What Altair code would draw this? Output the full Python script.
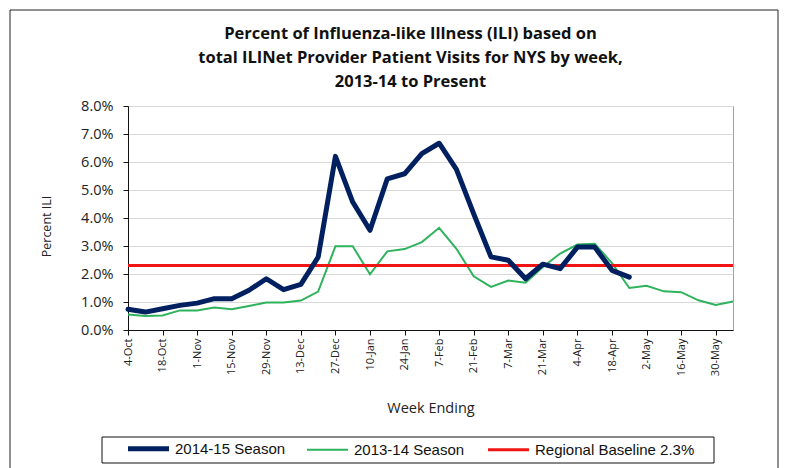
import json
import altair as alt
import pandas as pd

# ---- data ----
tick_labels = ["4-Oct", "18-Oct", "1-Nov", "15-Nov", "29-Nov", "13-Dec", "27-Dec",
               "10-Jan", "24-Jan", "7-Feb", "21-Feb", "7-Mar", "21-Mar", "4-Apr",
               "18-Apr", "2-May", "16-May", "30-May"]

season_2014_15 = [0.74, 0.64, 0.76, 0.88, 0.96, 1.12, 1.12, 1.42, 1.83, 1.44,
                  1.63, 2.60, 6.20, 4.57, 3.56, 5.40, 5.58, 6.30, 6.67, 5.74,
                  4.15, 2.61, 2.49, 1.83, 2.35, 2.19, 2.96, 2.96, 2.13, 1.89]

season_2013_14 = [0.55, 0.50, 0.52, 0.70, 0.70, 0.80, 0.74, 0.86, 0.98, 0.98,
                  1.05, 1.37, 2.99, 2.99, 1.99, 2.81, 2.89, 3.14, 3.65, 2.90,
                  1.92, 1.54, 1.77, 1.69, 2.25, 2.73, 3.05, 3.08, 2.39, 1.50,
                  1.58, 1.38, 1.35, 1.06, 0.89, 1.02]

baseline_value = 2.3
n_weeks = 36

series_names = ["2014-15 Season", "2013-14 Season", "Regional Baseline 2.3%"]
series_colors = ["#002060", "#2fb25c", "#f01414"]

rows = []
for i, v in enumerate(season_2014_15):
    rows.append({"series": series_names[0], "week": i, "value": v})
for i, v in enumerate(season_2013_14):
    rows.append({"series": series_names[1], "week": i, "value": v})
for i in range(n_weeks):
    rows.append({"series": series_names[2], "week": i, "value": baseline_value})
df = pd.DataFrame(rows)

label_expr = json.dumps(tick_labels) + "[datum.value / 2]"
stroke_expr = ("datum.value == '2014-15 Season' ? 5 : "
               "(datum.value == '2013-14 Season' ? 2 : 3)")

x_enc = alt.X("week:Q",
              scale=alt.Scale(domain=[0, n_weeks - 1], nice=False, zero=False),
              axis=alt.Axis(values=list(range(0, n_weeks - 1, 2)), labelExpr=label_expr,
                            labelAngle=-90, labelFontSize=11, labelPadding=3,
                            tickSize=5, title="Week Ending", titleFontSize=14.5,
                            titlePadding=26, grid=False))
y_enc = alt.Y("value:Q",
              scale=alt.Scale(domain=[0, 8], nice=False, zero=True),
              axis=alt.Axis(values=list(range(0, 9)),
                            labelExpr="format(datum.value, '.1f') + '%'",
                            labelFontSize=14.5, labelPadding=10, tickSize=5,
                            title="Percent ILI", titleFontSize=12.5, titlePadding=27,
                            titleY=120,
                            grid=True, gridColor="#d9d9d9"))
color_enc = alt.Color("series:N",
                      scale=alt.Scale(domain=series_names, range=series_colors),
                      legend=alt.Legend(orient="none", legendX=13, legendY=335,
                                        direction="horizontal", title=None,
                                        symbolType="stroke", symbolSize=1681,
                                        symbolStrokeWidth={"expr": stroke_expr},
                                        labelFont="Liberation Sans", labelFontSize=15,
                                        labelColor="#111111", labelOffset=19,
                                        columnPadding=17, padding=0, labelLimit=400))

base = alt.Chart(df)

green = base.transform_filter(alt.datum.series == series_names[1]).mark_line(
    strokeWidth=2).encode(x=x_enc, y=y_enc, color=color_enc)
red = base.transform_filter(alt.datum.series == series_names[2]).mark_line(
    strokeWidth=3).encode(x=x_enc, y=y_enc, color=color_enc)
blue = base.transform_filter(alt.datum.series == series_names[0]).mark_line(
    strokeWidth=5, strokeJoin="round", strokeCap="round").encode(
    x=x_enc, y=y_enc, color=color_enc)

frame_df = pd.DataFrame({"k": [0]})
outer_border = alt.Chart(frame_df).mark_rect(fillOpacity=0, stroke="#222222",
                                             strokeWidth=1).encode(
    x=alt.value(-118), x2=alt.value(650), y=alt.value(-96), y2=alt.value(380))
legend_border = alt.Chart(frame_df).mark_rect(fillOpacity=0, stroke="#111111",
                                              strokeWidth=1).encode(
    x=alt.value(-26), x2=alt.value(586), y=alt.value(331), y2=alt.value(357))

chart = alt.layer(outer_border, legend_border, green, red, blue).properties(
    width=605, height=224,
    padding={"left": 120, "top": 98, "right": 46, "bottom": 140},
    autosize=alt.AutoSizeParams(type="none"),
    title=alt.TitleParams(
        text=["Percent of Influenza-like Illness (ILI) based on",
              "total ILINet Provider Patient Visits for NYS by week,",
              "2013-14 to Present"],
        font="Open Sans", fontSize=16.5, fontWeight="bold", lineHeight=24,
        anchor="middle", dx=-20, dy=95, offset=14, color="#111111"),
).configure(background="white").configure_view(
    stroke="#a0a0a0", strokeWidth=1
).configure_axis(
    labelFont="Open Sans", titleFont="Open Sans", titleFontWeight="normal",
    labelColor="#222222", titleColor="#222222", domainColor="#111111",
    tickColor="#111111", domainWidth=1, tickWidth=1
)

chart.save("out.html", embed_options={"renderer": "svg", "actions": False})
